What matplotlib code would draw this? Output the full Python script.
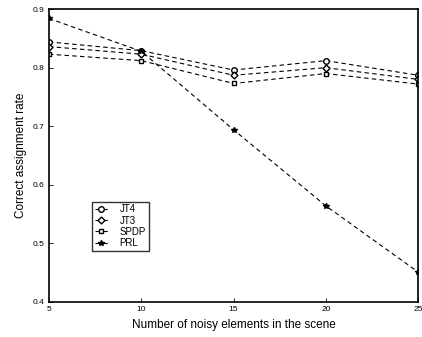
import matplotlib
matplotlib.use('Agg')
import matplotlib.pyplot as plt

plt.rcParams['font.family'] = ['Liberation Sans', 'DejaVu Sans']

noise = [5, 10, 15, 20, 25]
jt4 = [0.844, 0.829, 0.796, 0.812, 0.787]
jt3 = [0.836, 0.823, 0.787, 0.800, 0.780]
spdp = [0.823, 0.812, 0.773, 0.790, 0.772]
prl = [0.884, 0.828, 0.694, 0.564, 0.451]

fig = plt.figure(figsize=(4.22, 3.37), dpi=100)
ax = fig.add_axes([0.116, 0.104, 0.875, 0.869])

style = dict(color='black', linestyle='--', linewidth=0.8, dashes=(4, 3))
ax.plot(noise, jt4, marker='o', markersize=4, markerfacecolor='white', label='JT4', **style)
ax.plot(noise, jt3, marker='D', markersize=3.5, markerfacecolor='white', label='JT3', **style)
ax.plot(noise, spdp, marker='s', markersize=3.5, markerfacecolor='white', label='SPDP', **style)
ax.plot(noise, prl, marker='*', markersize=4, markerfacecolor='black', label='PRL', **style)

ax.set_xlim(5, 25)
ax.set_ylim(0.4, 0.9)
ax.set_xticks(noise)
ax.set_yticks([0.4, 0.5, 0.6, 0.7, 0.8, 0.9])
ax.set_yticklabels(['0.4', '0.5', '0.6', '0.7', '0.8', '0.9'])
ax.tick_params(direction='in', length=3, labelsize=6, width=0.6, pad=3)
for s in ax.spines.values():
    s.set_linewidth(1.2)

ax.set_xlabel('Number of noisy elements in the scene', fontsize=8.5)
ax.set_ylabel('Correct assignment rate', fontsize=8.5)

leg = ax.legend(loc='upper left', bbox_to_anchor=(0.117, 0.343), fontsize=7,
                frameon=True, fancybox=False, handlelength=1.3, borderpad=0.3,
                labelspacing=0.12, handletextpad=1.2, borderaxespad=0)
leg.get_frame().set_edgecolor('black')
leg.get_frame().set_linewidth(1.0)

fig.savefig('out.png', dpi=100)
